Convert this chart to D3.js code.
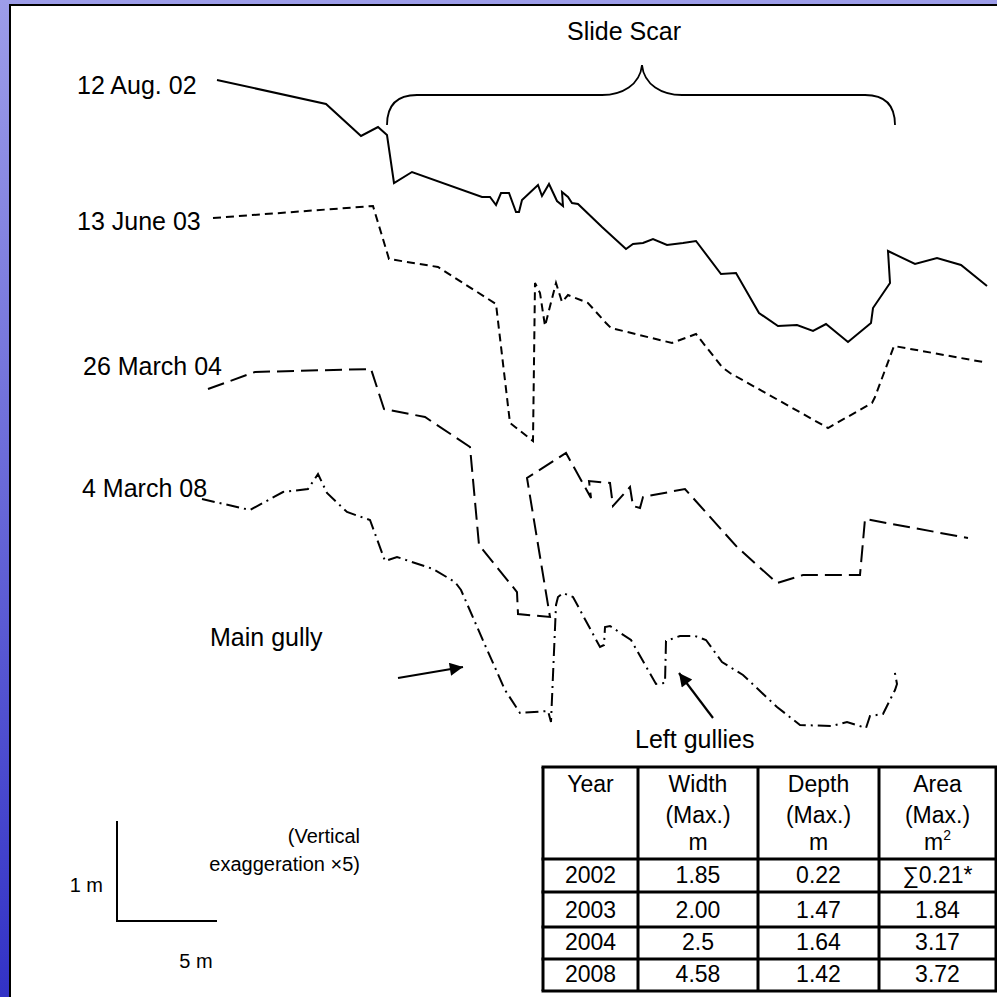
<!DOCTYPE html>
<html>
<head>
<meta charset="utf-8">
<script src="https://cdn.jsdelivr.net/npm/d3@7"></script>
<style>
  html, body { margin: 0; padding: 0; background: #fff; }
  svg { display: block; font-family: Arial, "Liberation Sans", sans-serif; }
</style>
</head>
<body>
<svg id="chart"></svg>
<script>
// survey dates, one profile per survey
const surveys = ["12 Aug. 02", "13 June 03", "26 March 04", "4 March 08"];

// profile points: [distance along section (m), height (m)] - profiles are stacked for display
const profile2002 = [
  [0.85, 7.20], [6.30, 6.96], [8.05, 6.64], [8.90, 6.73], [9.35, 6.65], [9.70, 6.17],
  [10.60, 6.28], [14.10, 6.03], [14.50, 6.03], [14.80, 5.95], [15.05, 6.07], [15.45, 6.07],
  [15.80, 5.88], [15.95, 5.88], [16.10, 6.00], [16.90, 6.15], [17.10, 6.04], [17.45, 6.16],
  [17.85, 5.99], [18.15, 5.94], [18.10, 6.08], [18.40, 6.03], [18.60, 5.97], [18.90, 5.96],
  [20.10, 5.73], [21.30, 5.51], [21.65, 5.56], [22.15, 5.57], [22.65, 5.61], [23.35, 5.55],
  [24.15, 5.57], [24.80, 5.59], [26.05, 5.26], [26.80, 5.27], [27.95, 4.87], [28.90, 4.74],
  [29.85, 4.75], [30.65, 4.69], [31.30, 4.76], [32.40, 4.58], [33.55, 4.77], [33.65, 4.92],
  [34.50, 5.17], [34.40, 5.49], [35.75, 5.36], [36.85, 5.42], [38.05, 5.35], [39.35, 5.14]
];
const profile2003 = [
  [0.65, 5.82], [8.65, 5.94], [9.45, 5.41], [11.90, 5.33], [14.80, 4.96], [15.50, 3.77],
  [16.65, 3.59], [16.75, 5.17], [17.00, 5.07], [17.25, 4.74], [17.80, 5.17], [18.10, 4.98],
  [18.40, 5.05], [19.40, 4.97], [20.30, 4.77], [20.55, 4.72], [23.60, 4.57], [24.80, 4.66],
  [26.10, 4.33], [26.50, 4.27], [31.40, 3.72], [33.60, 3.97], [33.75, 4.03], [34.70, 4.54],
  [39.15, 4.38]
];
const profile2004 = [
  [0.40, 4.11], [2.75, 4.28], [8.55, 4.31], [9.20, 3.91], [11.25, 3.83], [13.50, 3.53],
  [13.95, 2.55], [15.85, 2.08], [15.90, 1.86], [17.50, 1.83], [16.35, 3.22], [18.30, 3.47],
  [19.55, 3.02], [19.45, 3.19], [20.50, 3.17], [20.65, 2.94], [21.50, 3.13], [21.65, 2.94],
  [22.00, 2.92], [22.15, 3.03], [24.25, 3.11], [26.85, 2.53], [28.85, 2.17], [30.15, 2.25],
  [33.00, 2.25], [33.25, 2.81], [38.40, 2.62]
];
const profile2008 = [
  [0.10, 3.01], [2.50, 2.90], [4.15, 3.08], [5.40, 3.11], [5.90, 3.26], [6.35, 3.07],
  [7.35, 2.88], [8.50, 2.80], [9.25, 2.39], [9.85, 2.43], [11.65, 2.31], [12.75, 2.18],
  [13.05, 2.10], [14.25, 1.55], [15.25, 1.10], [16.00, 0.87], [17.40, 0.89], [17.55, 0.78],
  [17.80, 1.95], [17.90, 2.03], [18.15, 2.07], [18.65, 2.03], [20.00, 1.53], [20.20, 1.55],
  [20.25, 1.73], [20.50, 1.74], [21.55, 1.60], [22.80, 1.16], [23.25, 1.17], [23.30, 1.59],
  [24.00, 1.64], [24.75, 1.64], [25.30, 1.60], [26.10, 1.38], [27.15, 1.25], [28.85, 0.93],
  [30.00, 0.75], [31.60, 0.74], [32.35, 0.78], [33.30, 0.72], [33.50, 0.84], [34.15, 0.86],
  [34.75, 1.10], [34.85, 1.16], [34.70, 1.32]
];

// extent of the slide scar along the section (m)
const slideScar = [9.35, 34.75];

// summary table
const tableYears = ["2002", "2003", "2004", "2008"];
const widthMax = ["1.85", "2.00", "2.5", "4.58"];
const depthMax = ["0.22", "1.47", "1.64", "1.42"];
const areaMax = ["\u22110.21*", "1.84", "3.17", "3.72"];

const W = 997, H = 997;
const svg = d3.select("#chart").attr("width", W).attr("height", H);

//Slide background: blue band on the left and top, white page with black edge
const defs = svg.append("defs");
const grad = defs.append("linearGradient").attr("id", "bg")
    .attr("x1", 0).attr("y1", 0).attr("x2", 0).attr("y2", 1);
grad.append("stop").attr("offset", "0%").attr("stop-color", "#9d9de9");
grad.append("stop").attr("offset", "100%").attr("stop-color", "#3232c6");
svg.append("rect").attr("width", W).attr("height", H).attr("fill", "url(#bg)");
svg.append("rect").attr("x", 11).attr("y", 6).attr("width", W - 11).attr("height", H - 6).attr("fill", "#fff");
svg.append("path").attr("d", "M10,997V5H997").attr("fill", "none").attr("stroke", "#000").attr("stroke-width", 2);

defs.append("marker").attr("id", "arrow")
    .attr("viewBox", "0 0 10 10").attr("refX", 10).attr("refY", 5)
    .attr("markerWidth", 7).attr("markerHeight", 6).attr("markerUnits", "strokeWidth")
    .attr("orient", "auto")
    .append("path").attr("d", "M0,0L10,5L0,10Z").attr("fill", "#000");

//20 px per metre across, 100 px per metre up (vertical exaggeration x5)
const x = d3.scaleLinear().domain([0, 40]).range([200, 1000]);
const y = d3.scaleLinear().domain([0, 8]).range([800, 0]);

const line = d3.line().x(d => x(d[0])).y(d => y(d[1]));

const series = [
    {data: profile2002, dash: null},
    {data: profile2003, dash: "8,5"},
    {data: profile2004, dash: "17,7"},
    {data: profile2008, dash: "13,5,2,5"}
];

svg.selectAll("path.profile")
    .data(series)
    .join("path")
    .attr("class", "profile")
    .attr("d", d => line(d.data))
    .attr("fill", "none")
    .attr("stroke", "#000")
    .attr("stroke-width", 2)
    .attr("stroke-linejoin", "miter")
    .attr("stroke-dasharray", d => d.dash);

//Survey labels to the left of each profile
const labelPos = [[77, 94], [77, 230], [83, 375], [82, 497]];
svg.selectAll("text.survey")
    .data(surveys)
    .join("text")
    .attr("class", "survey")
    .attr("x", (d, i) => labelPos[i][0])
    .attr("y", (d, i) => labelPos[i][1])
    .attr("font-size", 25)
    .text(d => d);

//Brace over the slide scar
const bx0 = x(slideScar[0]), bx1 = x(slideScar[1]);
const bmid = (bx0 + bx1) / 2 + 1;
const braceTop = 65, braceBar = 95, braceEnd = 125;
const brace = d3.path();
brace.moveTo(bx0, braceEnd);
brace.bezierCurveTo(bx0, braceBar + 10, bx0 + 10, braceBar, bx0 + 30, braceBar);
brace.lineTo(bmid - 40, braceBar);
brace.bezierCurveTo(bmid - 20, braceBar, bmid - 2, braceBar - 10, bmid, braceTop);
brace.bezierCurveTo(bmid + 2, braceBar - 10, bmid + 20, braceBar, bmid + 40, braceBar);
brace.lineTo(bx1 - 30, braceBar);
brace.bezierCurveTo(bx1 - 10, braceBar, bx1, braceBar + 10, bx1, braceEnd);
svg.append("path").attr("d", brace.toString())
    .attr("fill", "none").attr("stroke", "#000").attr("stroke-width", 1.8);

svg.append("text").attr("x", bmid - 18).attr("y", 40)
    .attr("text-anchor", "middle").attr("font-size", 25).text("Slide Scar");

//Gully annotations, arrows given in section coordinates
const arrows = [
    {from: [9.90, 1.22], to: [13.15, 1.33]},
    {from: [25.65, 0.82], to: [23.95, 1.27]}
];
svg.selectAll("line.arrow")
    .data(arrows)
    .join("line")
    .attr("class", "arrow")
    .attr("x1", d => x(d.from[0])).attr("y1", d => y(d.from[1]))
    .attr("x2", d => x(d.to[0])).attr("y2", d => y(d.to[1]))
    .attr("stroke", "#000").attr("stroke-width", 2.2)
    .attr("marker-end", "url(#arrow)");

svg.append("text").attr("x", 210).attr("y", 646).attr("font-size", 25).text("Main gully");
svg.append("text").attr("x", 635).attr("y", 748).attr("font-size", 25).text("Left gullies");

//Scale bar
const sx = 117, sy = 921;
svg.append("path")
    .attr("d", `M${sx},${sy - (y(0) - y(1))}V${sy}H${sx + x(5) - x(0)}`)
    .attr("fill", "none").attr("stroke", "#000").attr("stroke-width", 2);
svg.append("text").attr("x", 103).attr("y", 892).attr("text-anchor", "end").attr("font-size", 20).text("1 m");
svg.append("text").attr("x", 196).attr("y", 968).attr("text-anchor", "middle").attr("font-size", 20).text("5 m");
svg.append("text").attr("x", 360).attr("y", 843).attr("text-anchor", "end").attr("font-size", 20).text("(Vertical");
svg.append("text").attr("x", 360).attr("y", 871).attr("text-anchor", "end").attr("font-size", 20).text("exaggeration \u00d75)");

//Summary table
const colEdges = [543, 638, 758, 879, 996];
const rowEdges = [767, 859, 892, 927, 959, 991];
const table = svg.append("g").attr("font-size", 23).attr("text-anchor", "middle");

table.selectAll("line.col")
    .data(colEdges)
    .join("line")
    .attr("x1", d => d).attr("x2", d => d)
    .attr("y1", rowEdges[0]).attr("y2", rowEdges[rowEdges.length - 1])
    .attr("stroke", "#000").attr("stroke-width", 3);
table.selectAll("line.row")
    .data(rowEdges)
    .join("line")
    .attr("y1", d => d).attr("y2", d => d)
    .attr("x1", colEdges[0] - 1.5).attr("x2", colEdges[colEdges.length - 1] + 1.5)
    .attr("stroke", "#000").attr("stroke-width", 3);

const headers = [["Year"], ["Width", "(Max.)", "m"], ["Depth", "(Max.)", "m"], ["Area", "(Max.)", "m"]];
const headerBase = [792, 823, 850];
headers.forEach((lines, c) => {
    const cx = (colEdges[c] + colEdges[c + 1]) / 2;
    lines.forEach((t, k) => {
        const txt = table.append("text").attr("x", cx).attr("y", headerBase[k]).text(t);
        if (c === 3 && k === 2) {
            txt.append("tspan").attr("font-size", 14).attr("dy", -10).text("2");
        }
    });
});

const columns = [tableYears, widthMax, depthMax, areaMax];
const rowBase = [883, 918, 950, 982];
columns.forEach((col, c) => {
    const cx = (colEdges[c] + colEdges[c + 1]) / 2;
    table.selectAll("text.c" + c)
        .data(col)
        .join("text")
        .attr("class", "c" + c)
        .attr("x", cx)
        .attr("y", (d, i) => rowBase[i])
        .text(d => d);
});
</script>
</body>
</html>
